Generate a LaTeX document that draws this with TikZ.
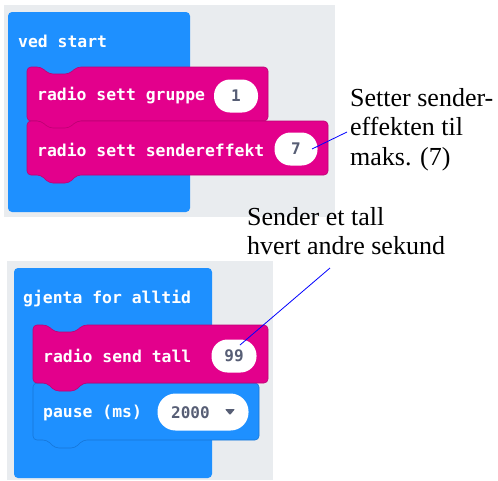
\documentclass[tikz,border=0pt]{standalone}
\usepackage{fontspec}
\setmainfont{Liberation Serif}
\newfontfamily\blockfont{DejaVu Sans Mono}[FakeBold=0]
\definecolor{mcblue}{RGB}{30,144,255}
\definecolor{mcblueedge}{RGB}{22,118,215}
\definecolor{mcpink}{RGB}{227,0,140}
\definecolor{mcpinkedge}{RGB}{190,0,115}
\definecolor{mcbg}{RGB}{233,236,239}
\definecolor{ovaltext}{RGB}{87,94,117}
\newcommand\mkblock[6]{% fill, edge, x0, y0, x1, y1
  \filldraw[fill=#1, draw=#2, line width=0.6pt, rounded corners=4pt]
    (#3,#4) -- ({#3+14},#4) -- ({#3+22},{#4+7}) -- ({#3+42},{#4+7}) -- ({#3+50},#4)
    -- (#5,#4) -- (#5,#6) -- ({#3+50},#6) -- ({#3+42},{#6+8}) -- ({#3+22},{#6+8})
    -- ({#3+14},#6) -- (#3,#6) -- cycle;}
\tikzset{
  btext/.style={anchor=west, inner sep=0pt, text=white,
    font=\blockfont\bfseries\fontsize{16.4}{18}\selectfont},
  oval/.style={fill=white, rounded corners=16pt, minimum height=33pt,
    inner sep=0pt, text=ovaltext,
    font=\blockfont\bfseries\fontsize{16}{18}\selectfont},
  note/.style={anchor=north west, inner sep=0pt, align=left,
    font=\fontsize{26}{29.5}\selectfont},
  pointer/.style={draw=blue, line width=0.8pt}
}
\begin{document}
\begin{tikzpicture}[x=1pt,y=-1pt]
\useasboundingbox[fill=white] (0,0) rectangle (498,480);
% top panel
\fill[mcbg] (4,5) rectangle (335,217);
\fill[mcblue, rounded corners=4pt] (8,12) rectangle (190,212);
\node[btext] (vs) at (18,41) {ved start};
\mkblock{mcpink}{mcpinkedge}{27}{67}{268}{121}
\node[btext] (g1) at (37,96) {radio sett gruppe};
\node[oval, minimum width=44pt] (o1) at (236,96) {1};
\mkblock{mcpink}{mcpinkedge}{27}{121}{328}{175}
\node[btext] (g2) at (37,150) {radio sett sendereffekt};
\node[oval, minimum width=43pt] (o7) at (296,149) {7};
% bottom panel
\fill[mcbg] (7,261) rectangle (273,480);
\fill[mcblue, rounded corners=4pt] (14,268) rectangle (212,478);
\node[btext] (ga) at (23,299) {gjenta for alltid};
\mkblock{mcblue}{mcblueedge}{33}{383}{259}{440}
\mkblock{mcpink}{mcpinkedge}{33}{325}{268}{383}
\node[btext] (st) at (43,356) {radio send tall};
\node[oval, minimum width=45pt] (o99) at (234,356) {99};
\node[btext] (ps) at (43,413) {pause (ms)};
\node[oval, minimum width=91pt, minimum height=37pt, rounded corners=18pt] (o2000) at (203,412) {};
\node[anchor=west, inner sep=0pt, text=ovaltext,
  font=\blockfont\bfseries\fontsize{16}{18}\selectfont] (t2000) at (171,413) {2000};
\fill[ovaltext, rounded corners=0.8pt] (225,409) -- (235,409) -- (230,415) -- cycle;
% annotations
\node[note] (n1) at (350,88) {Setter sender-\\effekten til\\maks. (7)};
\node[note] (n2) at (247,207) {Sender et tall\\hvert andre sekund};
\coordinate (a1) at (312,149);
\coordinate (b1) at (347,132);
\coordinate (a2) at (240,345);
\coordinate (b2) at (330,268);
\draw[pointer] (a1) -- (b1);
\draw[pointer] (a2) -- (b2);
\end{tikzpicture}
\end{document}
